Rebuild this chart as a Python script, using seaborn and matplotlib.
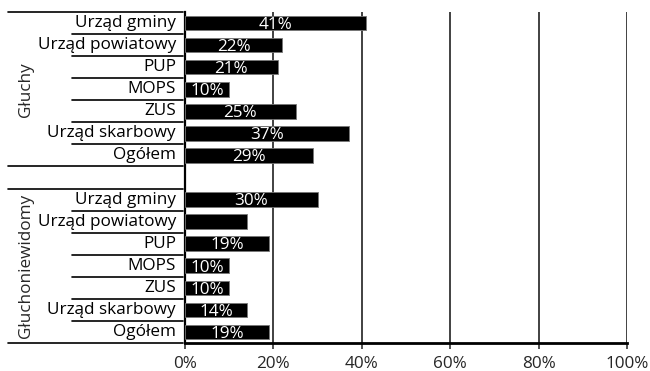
import matplotlib
matplotlib.use("Agg")
import matplotlib.pyplot as plt
import matplotlib.transforms as mtransforms
import seaborn as sns
import pandas as pd

# Survey shares by office, for two respondent groups
groups = ["Głuchy", "Głuchoniewidomy"]
offices = ["Urząd gminy", "Urząd powiatowy", "PUP", "MOPS", "ZUS",
           "Urząd skarbowy", "Ogółem"]
gluchy = [41, 22, 21, 10, 25, 37, 29]
gluchoniewidomy = [30, 14, 19, 10, 10, 14, 19]
# Value labels printed on bars (one bar has none)
labels_gluchy = ["41%", "22%", "21%", "10%", "25%", "37%", "29%"]
labels_gluchoniewidomy = ["30%", None, "19%", "10%", "10%", "14%", "19%"]
x_ticks = [0, 20, 40, 60, 80, 100]
x_ticklabels = ["0%", "20%", "40%", "60%", "80%", "100%"]

sns.set_theme(style="white")
plt.rcParams["font.family"] = ["Open Sans", "DejaVu Sans"]
FS = 12.3

rows = []
for g, vals, labs in [(groups[0], gluchy, labels_gluchy),
                      (groups[1], gluchoniewidomy, labels_gluchoniewidomy)]:
    for o, v, l in zip(offices, vals, labs):
        rows.append({"key": f"{g}|{o}", "group": g, "office": o,
                     "value": v, "label": l})
df = pd.DataFrame(rows)

# Row order with an empty spacer row between the two groups
order = [f"{groups[0]}|{o}" for o in offices] + ["spacer"] + \
        [f"{groups[1]}|{o}" for o in offices]

fig = plt.figure(figsize=(6.5, 3.71), dpi=100)
ax = fig.add_axes([185 / 650, 1 - 343 / 371, (627 - 185) / 650, (343 - 12) / 371])

sns.barplot(data=df, x="value", y="key", order=order, orient="h",
            color="black", width=0.66, edgecolor="#777777", linewidth=0.6,
            ax=ax, zorder=3)

ax.set_xlim(0, 100)
ax.set_ylim(len(order) - 0.5, -0.5)
ax.set_xticks(x_ticks)
ax.set_xticklabels(x_ticklabels, fontsize=FS)
ax.set_yticks([])
ax.set_xlabel("")
ax.set_ylabel("")

# Vertical grid lines
for t in x_ticks[1:]:
    ax.axvline(t, color="#333333", lw=1.3, zorder=1)

for s in ["top", "right"]:
    ax.spines[s].set_visible(False)
ax.spines["left"].set_color("black")
ax.spines["left"].set_linewidth(1.6)
ax.spines["bottom"].set_color("black")
ax.spines["bottom"].set_linewidth(2)
ax.tick_params(axis="x", direction="out", length=4, width=1.2,
               color="#333333", pad=5, bottom=True)

# Bar value labels
for i, key in enumerate(order):
    sub = df[df["key"] == key]
    if sub.empty:
        continue
    r = sub.iloc[0]
    if r["label"]:
        ax.text(r["value"] / 2, i + 0.08, r["label"], color="white",
                ha="center", va="center", fontsize=FS, zorder=4)

# Category labels and separators in the left margin
trans = mtransforms.blended_transform_factory(fig.transFigure, ax.transData)
x_text = 176 / 650
x_short = 72 / 650
x_long = 8 / 650
x_end = 183 / 650

for i, key in enumerate(order):
    if key == "spacer":
        continue
    office = key.split("|")[1]
    fig.text(x_text, i, office, transform=trans, ha="right", va="center",
             fontsize=FS, color="black")

def hline(y, x0):
    fig.add_artist(plt.Line2D([x0, x_end], [y, y], transform=trans,
                              color="black", lw=1.2))

# group 1 rows 0..6, group 2 rows 8..14
for start in (0, 8):
    hline(start - 0.5, x_long)
    for k in range(1, 7):
        hline(start + k - 0.5, x_short)
    hline(start + 6.5, x_long)

# Group titles, rotated
fig.text(26 / 650, 3, groups[0], transform=trans, rotation=90,
         ha="center", va="center", fontsize=FS)
fig.text(26 / 650, 11, groups[1], transform=trans, rotation=90,
         ha="center", va="center", fontsize=FS)

fig.savefig("out.png", dpi=100)
